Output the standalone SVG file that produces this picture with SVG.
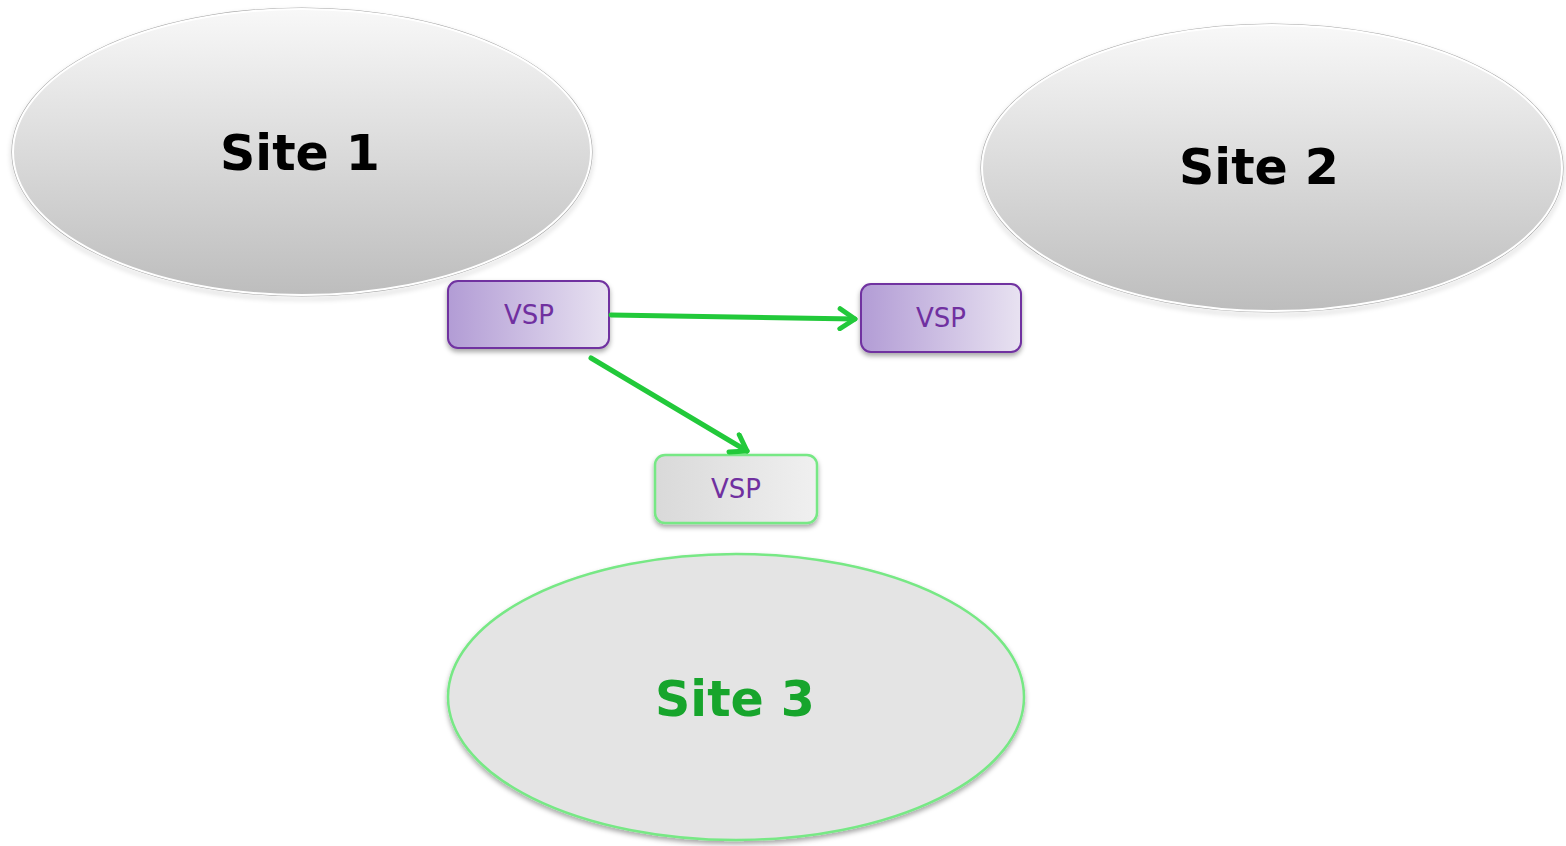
<svg xmlns="http://www.w3.org/2000/svg" width="1566" height="846" viewBox="0 0 1566 846">
  <defs>
    <linearGradient id="siteGrad" x1="0" y1="0" x2="0" y2="1">
      <stop offset="0" stop-color="#f8f8f8"/>
      <stop offset="1" stop-color="#bdbdbd"/>
    </linearGradient>
    <linearGradient id="vspPurple" x1="0" y1="0" x2="1" y2="0">
      <stop offset="0" stop-color="#b29cd5"/>
      <stop offset="1" stop-color="#e8e2f1"/>
    </linearGradient>
    <linearGradient id="vspGrey" x1="0" y1="0" x2="1" y2="0">
      <stop offset="0" stop-color="#d9d9d9"/>
      <stop offset="1" stop-color="#f0f0f0"/>
    </linearGradient>
    <filter id="shadow" x="-10%" y="-10%" width="120%" height="130%">
      <feDropShadow dx="0" dy="3" stdDeviation="2.5" flood-color="#000" flood-opacity="0.35"/>
    </filter>
    <marker id="chevron" viewBox="0 0 20 20" refX="16" refY="10" markerWidth="5" markerHeight="5" markerUnits="strokeWidth" orient="auto">
      <path d="M4,2 L16,10 L4,18" fill="none" stroke="#22c93a" stroke-width="4" stroke-linecap="round" stroke-linejoin="round"/>
    </marker>
    <style>
      .site { fill: url(#siteGrad); stroke: #ffffff; stroke-width: 2; }
      .siteEdge { fill: none; stroke: #a8a8a8; stroke-width: 1.2; }
      .siteLabel { font-family: "Comic Sans MS", "DejaVu Sans", sans-serif; font-weight: bold; font-size: 49px; text-anchor: middle; fill: #000; }
      .vsp { fill: url(#vspPurple); stroke: #7030a0; stroke-width: 2; }
      .vspLabel { font-family: "Comic Sans MS", "DejaVu Sans", sans-serif; font-size: 26px; text-anchor: middle; fill: #7030a0; }
      .link { stroke: #22c93a; stroke-width: 5; fill: none; stroke-linecap: round; marker-end: url(#chevron); }
    </style>
  </defs>

  <rect width="1566" height="846" fill="#ffffff"/>

  <!-- Site 1 -->
  <g id="site1">
    <ellipse cx="302" cy="152" rx="290" ry="144" class="siteEdge" filter="url(#shadow)"/>
    <ellipse cx="302" cy="152" rx="289" ry="143" class="site"/>
    <text x="300" y="170" class="siteLabel">Site 1</text>
  </g>

  <!-- Site 2 -->
  <g id="site2">
    <ellipse cx="1272" cy="168" rx="291" ry="144" class="siteEdge" filter="url(#shadow)"/>
    <ellipse cx="1272" cy="168" rx="290" ry="143" class="site"/>
    <text x="1259" y="184" class="siteLabel">Site 2</text>
  </g>

  <!-- Site 3 -->
  <g id="site3">
    <ellipse cx="736" cy="697" rx="288" ry="143" fill="#e4e4e4" stroke="#77e885" stroke-width="2.5" filter="url(#shadow)"/>
    <text x="735" y="716" class="siteLabel" style="fill:#17a52c">Site 3</text>
  </g>

  <!-- VSP at Site 1 -->
  <g id="vsp1">
    <rect x="448" y="281" width="161" height="67" rx="10" class="vsp" filter="url(#shadow)"/>
    <text x="529" y="324" class="vspLabel">VSP</text>
  </g>

  <!-- VSP at Site 2 -->
  <g id="vsp2">
    <rect x="861" y="284" width="160" height="68" rx="10" class="vsp" filter="url(#shadow)"/>
    <text x="941" y="327" class="vspLabel">VSP</text>
  </g>

  <!-- VSP at Site 3 -->
  <g id="vsp3">
    <rect x="655" y="455" width="162" height="68" rx="10" fill="url(#vspGrey)" stroke="#77e885" stroke-width="2.5" filter="url(#shadow)"/>
    <text x="736" y="498" class="vspLabel">VSP</text>
  </g>

  <!-- Connectors -->
  <g id="connectors">
    <line x1="611" y1="315" x2="855" y2="319" class="link"/>
    <line x1="591" y1="358" x2="747" y2="451" class="link"/>
  </g>
</svg>
